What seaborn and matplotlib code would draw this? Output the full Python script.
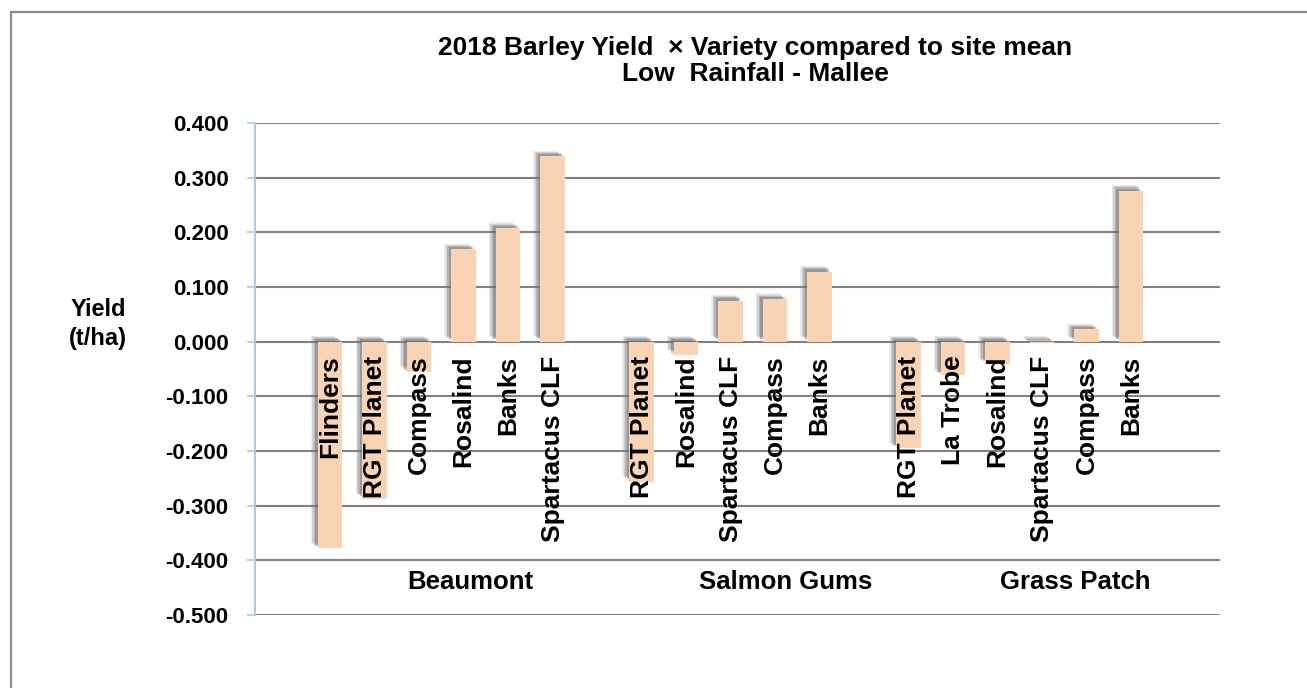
import matplotlib
matplotlib.use("Agg")
import matplotlib.pyplot as plt
import matplotlib.patheffects as pe
from matplotlib.ticker import FuncFormatter
from matplotlib.lines import Line2D
import seaborn as sns
import pandas as pd

# ---- data ----
sites = ["Beaumont", "Salmon Gums", "Grass Patch"]
beaumont_varieties = ["Flinders", "RGT Planet", "Compass", "Rosalind", "Banks", "Spartacus CLF"]
beaumont_values = [-0.378, -0.287, -0.055, 0.169, 0.208, 0.339]
salmon_varieties = ["RGT Planet", "Rosalind", "Spartacus CLF", "Compass", "Banks"]
salmon_values = [-0.256, -0.024, 0.075, 0.078, 0.128]
grass_varieties = ["RGT Planet", "La Trobe", "Rosalind", "Spartacus CLF", "Compass", "Banks"]
grass_values = [-0.195, -0.061, -0.040, -0.003, 0.023, 0.276]
y_ticks = [0.4, 0.3, 0.2, 0.1, 0.0, -0.1, -0.2, -0.3, -0.4, -0.5]

title = "2018 Barley Yield  \u00d7 Variety compared to site mean\nLow  Rainfall - Mallee"
y_label = "Yield\n(t/ha)"

groups = [
    (sites[0], beaumont_varieties, beaumont_values),
    (sites[1], salmon_varieties, salmon_values),
    (sites[2], grass_varieties, grass_values),
]
# horizontal shift (in category slots) of each site label, as in the original layout
site_label_shift = [0.65, 1.23, 1.24]

rows = []
order = []
group_slots = []
for gi, (site, vars_, vals) in enumerate(groups):
    slots = []
    for v, val in zip(vars_, vals):
        key = f"{site}|{v}"
        rows.append({"key": key, "site": site, "variety": v, "value": val})
        slots.append(len(order))
        order.append(key)
    group_slots.append(slots)
    if gi < len(groups) - 1:
        order.append(f"gap{gi}")
df = pd.DataFrame(rows)

# ---- figure ----
sns.set_style("white")
plt.rcParams["font.family"] = ["Liberation Sans", "DejaVu Sans"]
plt.rcParams["font.weight"] = "bold"
plt.rcParams["text.color"] = "black"
plt.rcParams["ytick.color"] = "black"

fig = plt.figure(figsize=(13.07, 6.88), dpi=100)
ax = fig.add_axes([255 / 1307, 1 - 615 / 688, (1220 - 255) / 1307, (615 - 123) / 688])

bar_color = "#F9D4B4"
sns.barplot(data=df, x="key", y="value", order=order, color=bar_color,
            width=0.55, saturation=1, ax=ax, errorbar=None)

shadow = [
    pe.SimplePatchShadow(offset=(-5.0, 4.0), shadow_rgbFace="#808080", alpha=0.16),
    pe.SimplePatchShadow(offset=(-4.0, 3.2), shadow_rgbFace="#7a7a7a", alpha=0.22),
    pe.SimplePatchShadow(offset=(-3.0, 2.4), shadow_rgbFace="#6e6e6e", alpha=0.28),
    pe.SimplePatchShadow(offset=(-2.0, 1.6), shadow_rgbFace="#606060", alpha=0.34),
    pe.Normal(),
]
for p in ax.patches:
    p.set_edgecolor("none")
    p.set_path_effects(shadow)

ax.set_xlim(-1.69, 20.0)
ax.set_ylim(-0.5, 0.4)
ax.set_yticks(y_ticks)
ax.yaxis.set_major_formatter(FuncFormatter(lambda v, _: f"{v:.3f}"))
ax.set_xticks([])
ax.set_xlabel("")
ax.set_ylabel("")

ax.yaxis.grid(True, color="#828282", linewidth=1.5)
ax.set_axisbelow(True)
for s in ["top", "right", "bottom"]:
    ax.spines[s].set_visible(False)
ax.spines["left"].set_color("#B4C7E7")
ax.spines["left"].set_linewidth(1.5)
ax.tick_params(axis="y", which="major", left=True, color="#B4C7E7", length=6,
               width=1.2, pad=13, labelsize=16, labelcolor="black")
for lbl in ax.get_yticklabels():
    lbl.set_fontweight("bold")

# variety labels (rotated, just below zero)
for (site, vars_, vals), slots, shift in zip(groups, group_slots, site_label_shift):
    for v, slot in zip(vars_, slots):
        ax.annotate(v, xy=(slot, 0), xytext=(0, -10), textcoords="offset points",
                    rotation=90, ha="center", va="top", fontsize=19,
                    fontweight="bold", color="black")
    center = (slots[0] + slots[-1]) / 2 + shift
    ax.text(center, 0.067, site, transform=ax.get_xaxis_transform(),
            ha="center", va="center", fontsize=18.5, fontweight="bold", color="black")

# y label
fig.text(98 / 1307, 1 - 324 / 688, y_label, ha="center", va="center",
         fontsize=17, fontweight="bold", linespacing=1.3, color="black")

# title
fig.text(755 / 1307, 1 - 61 / 688, title, ha="center", va="center",
         fontsize=19, fontweight="bold", linespacing=1.15, color="black")

# outer chart border (top and left)
fig.add_artist(Line2D([11 / 1307, 1.0], [1 - 12 / 688, 1 - 12 / 688],
                      transform=fig.transFigure, color="#8c8c8c", lw=1.6))
fig.add_artist(Line2D([11 / 1307, 11 / 1307], [0.0, 1 - 12 / 688],
                      transform=fig.transFigure, color="#8c8c8c", lw=1.6))

fig.savefig("out.png", dpi=100)
